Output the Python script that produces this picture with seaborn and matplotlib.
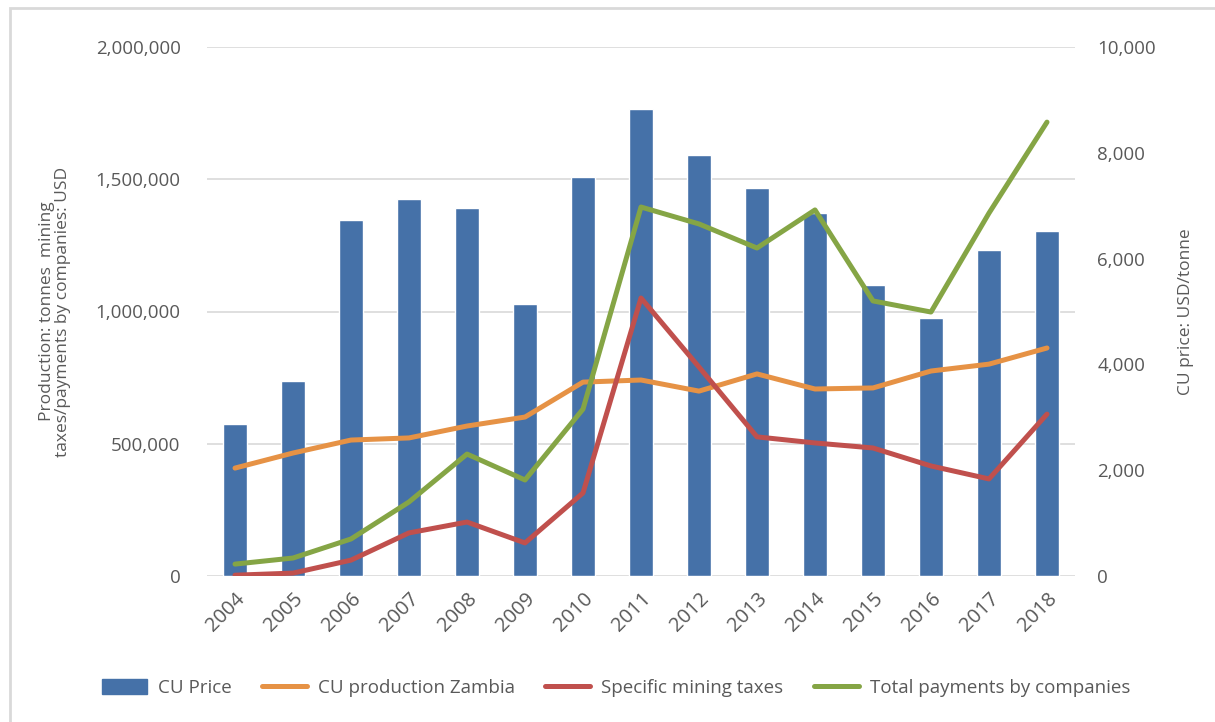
import pandas as pd
import seaborn as sns
import matplotlib.pyplot as plt
from matplotlib.patches import Rectangle
from matplotlib.ticker import FuncFormatter

years = list(range(2004, 2019))
cu_price = [2866, 3679, 6722, 7118, 6956, 5150, 7535, 8828, 7962, 7332, 6863, 5510, 4868, 6170, 6530]
cu_production = [408000, 465000, 514000, 522000, 567000, 601000, 733000, 741000,
                 699000, 764000, 707000, 711000, 775000, 801000, 862000]
mining_taxes = [3000, 11000, 60000, 163000, 204000, 125000, 314000, 1051000,
                790000, 526000, 503000, 484000, 416000, 367000, 612000]
total_payments = [45000, 68000, 140000, 280000, 461000, 363000, 631000, 1395000,
                  1331000, 1240000, 1384000, 1040000, 998000, 1372000, 1716000]

left_ticks = [0, 500000, 1000000, 1500000, 2000000]
right_ticks = [0, 2000, 4000, 6000, 8000, 10000]

bar_df = pd.DataFrame({"Year": years, "Value": cu_price})
line_df = pd.DataFrame({
    "Year": years,
    "CU production Zambia": cu_production,
    "Specific mining taxes": mining_taxes,
    "Total payments by companies": total_payments,
}).melt(id_vars="Year", var_name="Series", value_name="Value")

palette = {
    "CU production Zambia": "#E69245",
    "Specific mining taxes": "#C0504D",
    "Total payments by companies": "#85A545",
}
bar_color = "#4571A8"
text_color = "#595959"
grid_color = "#D9D9D9"

sns.set_style("white")
plt.rcParams["font.family"] = ["Open Sans", "DejaVu Sans"]

fig = plt.figure(figsize=(12.15, 7.22), dpi=100)
# outer chart frame like the original
fig.patches.append(Rectangle((10 / 1215, -0.05), 1.1, (722 - 8) / 722 + 0.05,
                             transform=fig.transFigure, fill=False,
                             edgecolor=grid_color, linewidth=2))

ax_bar = fig.add_axes([207 / 1215, 146 / 722, 868 / 1215, 529 / 722])
ax_line = ax_bar.twinx()

sns.barplot(data=bar_df, x="Year", y="Value", native_scale=True, width=0.41,
            color=bar_color, saturation=1, ax=ax_bar, zorder=2)
sns.lineplot(data=line_df, x="Year", y="Value", hue="Series", palette=palette,
             linewidth=3.6, ax=ax_line, solid_capstyle="round", legend=False)

ax_bar.set_xlim(years[0] - 0.483, years[-1] + 0.483)
ax_bar.set_ylim(right_ticks[0], right_ticks[-1])
ax_line.set_ylim(left_ticks[0], left_ticks[-1])

# gridlines follow the left axis, drawn behind bars
scale = right_ticks[-1] / left_ticks[-1]
for t in left_ticks:
    ax_bar.axhline(t * scale, color=grid_color, lw=1.2, zorder=0)

ax_bar.yaxis.tick_right()
ax_bar.yaxis.set_label_position("right")
ax_line.yaxis.tick_left()
ax_line.yaxis.set_label_position("left")

ax_bar.set_yticks(right_ticks)
ax_bar.yaxis.set_major_formatter(FuncFormatter(lambda v, p: f"{int(v):,}"))
ax_line.set_yticks(left_ticks)
ax_line.yaxis.set_major_formatter(FuncFormatter(lambda v, p: f"{int(v):,}"))

ax_bar.set_xticks(years)
ax_bar.set_xticklabels([str(y) for y in years], rotation=45, ha="right",
                       rotation_mode="anchor")

for a in (ax_bar, ax_line):
    for s in a.spines.values():
        s.set_visible(False)
    a.tick_params(axis="both", colors=text_color, labelsize=13.5, length=0)

ax_bar.tick_params(axis="y", pad=16)
ax_line.tick_params(axis="y", pad=19)
ax_bar.tick_params(axis="x", labelsize=14.5, pad=9)

ax_bar.set_xlabel("")
ax_line.set_xlabel("")
ax_bar.set_ylabel("CU price: USD/tonne", color=text_color, fontsize=12.5, labelpad=16)
ax_line.set_ylabel("Production: tonnes  mining\ntaxes/payments by companies: USD",
                   color=text_color, fontsize=12.5, labelpad=18, linespacing=1.0)

handles = [plt.Rectangle((0, 0), 1, 1, color=bar_color)]
labels = ["CU Price"]
for name, col in palette.items():
    handles.append(plt.Line2D([0], [0], color=col, lw=3.6, solid_capstyle="round"))
    labels.append(name)
leg = fig.legend(handles, labels, loc="center", bbox_to_anchor=(0.507, 1 - 688 / 722),
                 ncol=4, frameon=False, fontsize=13.5, handlelength=2.4,
                 handleheight=0.9, columnspacing=1.6, handletextpad=0.6)
for t in leg.get_texts():
    t.set_color(text_color)

fig.savefig("out.png", dpi=100)
